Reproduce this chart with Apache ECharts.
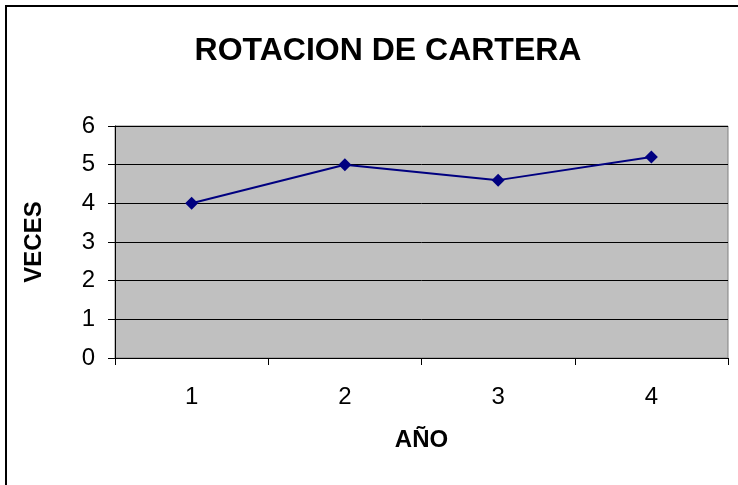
<!DOCTYPE html>
<html>
<head>
<meta charset="utf-8">
<script src="https://cdn.jsdelivr.net/npm/echarts@6/dist/echarts.min.js"></script>
<style>
  html, body { margin: 0; padding: 0; background: #fff; }
  #chart { width: 738px; height: 485px; }
</style>
</head>
<body>
<div id="chart"></div>
<script>
var years = ['1', '2', '3', '4'];
var veces = [4.0, 5.0, 4.6, 5.2];

var chart = echarts.init(document.getElementById('chart'));
var font = 'Arial, "Liberation Sans", sans-serif';

var option = {
    animation: false,
    backgroundColor: '#fff',
    title: {
        text: 'ROTACION DE CARTERA',
        left: 383,
        top: 30,
        textAlign: 'center',
        textStyle: { fontFamily: font, fontSize: 32, fontWeight: 'bold', color: '#000' }
    },
    graphic: [{
        type: 'rect',
        shape: { x: 6, y: 6, width: 760, height: 500 },
        style: { fill: 'none', stroke: '#000', lineWidth: 2 },
        silent: true
    }],
    grid: {
        left: 115, top: 126, width: 613, height: 232,
        show: true,
        backgroundColor: '#c0c0c0',
        borderColor: '#808080',
        borderWidth: 1
    },
    xAxis: {
        type: 'category',
        data: years,
        boundaryGap: true,
        name: 'AÑO',
        nameLocation: 'middle',
        nameGap: 70,
        nameTextStyle: { fontFamily: font, fontSize: 24, fontWeight: 'bold', color: '#000' },
        axisLine: { lineStyle: { color: '#000', width: 1 } },
        axisTick: { show: true, length: 7, alignWithLabel: false, lineStyle: { color: '#000' } },
        axisLabel: { fontFamily: font, fontSize: 24, color: '#000', margin: 27 },
        splitLine: { show: false }
    },
    yAxis: {
        type: 'value',
        min: 0, max: 6, interval: 1,
        name: 'VECES',
        nameLocation: 'middle',
        nameGap: 69,
        nameTextStyle: { fontFamily: font, fontSize: 24, fontWeight: 'bold', color: '#000' },
        axisLine: { show: true, lineStyle: { color: '#000', width: 1 } },
        axisTick: { show: true, length: 7, lineStyle: { color: '#000' } },
        axisLabel: { fontFamily: font, fontSize: 24, color: '#000', margin: 20 },
        splitLine: { show: true, lineStyle: { color: '#000', width: 1 } }
    },
    series: [{
        type: 'line',
        data: veces,
        symbol: 'diamond',
        symbolSize: 13,
        lineStyle: { color: '#000080', width: 2 },
        itemStyle: { color: '#000080' }
    }]
};
chart.setOption(option);
</script>
</body>
</html>
